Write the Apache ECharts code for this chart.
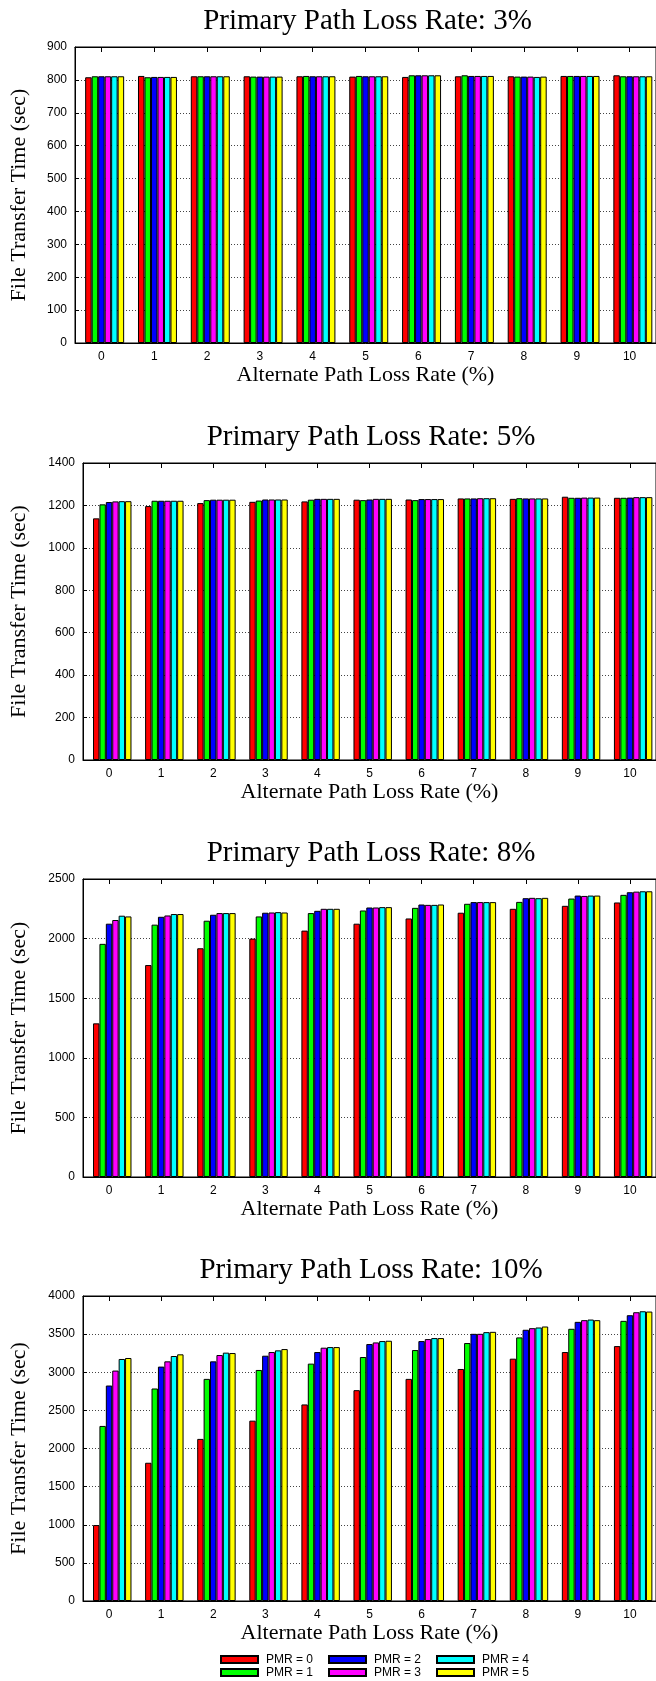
<!DOCTYPE html>
<html>
<head>
<meta charset="utf-8">
<script src="https://cdn.jsdelivr.net/npm/echarts@6/dist/echarts.min.js"></script>
<style>
  html, body { margin: 0; padding: 0; background: #fff; }
  #chart { width: 656px; height: 1681px; }
</style>
</head>
<body>
<div id="chart"></div>
<script>
// categories: alternate path loss rate (%)
const altLoss = ['0', '1', '2', '3', '4', '5', '6', '7', '8', '9', '10'];
const pmrNames = ['PMR = 0', 'PMR = 1', 'PMR = 2', 'PMR = 3', 'PMR = 4', 'PMR = 5'];
const pmrColors = ['#ff0000', '#00ff00', '#0000ff', '#ff00ff', '#00ffff', '#ffff00'];
const panelTitles = [
  'Primary Path Loss Rate: 3%',
  'Primary Path Loss Rate: 5%',
  'Primary Path Loss Rate: 8%',
  'Primary Path Loss Rate: 10%'
];
const yMax = [900, 1400, 2500, 4000];
const yStep = [100, 200, 500, 500];

// file transfer time (sec), one row per PMR, one value per alternate loss rate
const loss3 = [
  [808, 812, 811, 811, 811, 810, 809, 811, 811, 812, 814],
  [811, 808, 811, 810, 812, 812, 814, 814, 810, 812, 811],
  [811, 809, 811, 810, 811, 811, 814, 812, 810, 812, 811],
  [811, 809, 811, 810, 811, 811, 814, 812, 810, 812, 811],
  [811, 809, 811, 810, 811, 811, 814, 812, 809, 812, 811],
  [811, 809, 811, 810, 811, 811, 814, 812, 810, 812, 811]
];
const loss5 = [
  [1139, 1197, 1211, 1217, 1219, 1227, 1228, 1233, 1231, 1241, 1236],
  [1205, 1222, 1225, 1223, 1227, 1225, 1225, 1233, 1234, 1236, 1236],
  [1216, 1222, 1227, 1228, 1231, 1228, 1230, 1233, 1233, 1236, 1237],
  [1219, 1222, 1227, 1228, 1231, 1231, 1230, 1234, 1233, 1237, 1239],
  [1220, 1222, 1227, 1228, 1231, 1231, 1230, 1234, 1233, 1237, 1239],
  [1220, 1222, 1227, 1228, 1231, 1231, 1230, 1234, 1233, 1237, 1239]
];
const loss8 = [
  [1289, 1778, 1919, 2000, 2067, 2125, 2169, 2217, 2250, 2275, 2303],
  [1956, 2117, 2150, 2186, 2214, 2236, 2258, 2292, 2308, 2336, 2367],
  [2125, 2183, 2200, 2217, 2233, 2261, 2286, 2306, 2339, 2361, 2389],
  [2156, 2194, 2214, 2219, 2250, 2261, 2283, 2306, 2342, 2358, 2394],
  [2192, 2206, 2214, 2222, 2250, 2264, 2283, 2306, 2339, 2361, 2397],
  [2186, 2206, 2214, 2219, 2250, 2264, 2286, 2306, 2342, 2361, 2397]
];
const loss10 = [
  [996, 1813, 2126, 2365, 2578, 2765, 2913, 3043, 3178, 3265, 3343],
  [2296, 2787, 2913, 3030, 3113, 3200, 3291, 3383, 3457, 3570, 3674],
  [2826, 3074, 3143, 3217, 3265, 3370, 3409, 3504, 3557, 3661, 3748],
  [3022, 3143, 3226, 3265, 3322, 3391, 3435, 3504, 3578, 3683, 3787],
  [3174, 3213, 3257, 3287, 3330, 3409, 3448, 3526, 3587, 3691, 3800],
  [3187, 3235, 3252, 3304, 3330, 3413, 3448, 3530, 3600, 3683, 3796]
];
const panelData = [loss3, loss5, loss8, loss10];

// panel boxes (px)
const grids = [
  { left: 75, top: 47, width: 585, height: 296 },
  { left: 83, top: 463, width: 576, height: 297 },
  { left: 83, top: 879, width: 576, height: 298 },
  { left: 83, top: 1296, width: 576, height: 305 }
];

const sans = 'Liberation Sans, Arial, sans-serif';
const serif = 'Liberation Serif, Times New Roman, serif';

const option = {
  animation: false,
  backgroundColor: '#fff',
  title: [],
  grid: [],
  xAxis: [],
  yAxis: [],
  series: [],
  legend: []
};

grids.forEach((g, i) => {
  option.title.push({
    text: panelTitles[i],
    left: g.left + g.width / 2,
    top: g.top - 40,
    textAlign: 'center',
    padding: 0,
    textStyle: { fontFamily: serif, fontSize: 29, fontWeight: 'normal', color: '#000' }
  });
  option.grid.push({
    left: g.left, top: g.top, width: g.width, height: g.height,
    show: true, borderColor: '#000', borderWidth: 1, backgroundColor: 'transparent'
  });
  // bottom axis with labels
  option.xAxis.push({
    type: 'category',
    gridIndex: i,
    data: altLoss,
    position: 'bottom',
    axisLine: { lineStyle: { color: '#000', width: 1 } },
    axisTick: { show: false },
    axisLabel: { color: '#000', fontFamily: sans, fontSize: 12, margin: 8 },
    name: 'Alternate Path Loss Rate (%)',
    nameLocation: 'middle',
    nameGap: 21,
    nameTextStyle: { fontFamily: serif, fontSize: 22, color: '#000' }
  });
  // mirrored ticks on the top edge
  option.xAxis.push({
    type: 'category',
    gridIndex: i,
    data: altLoss,
    position: 'top',
    axisLine: { show: true, lineStyle: { color: '#000', width: 1 } },
    axisTick: { show: true, inside: true, alignWithLabel: true, length: 5, lineStyle: { color: '#000' } },
    axisLabel: { show: false }
  });
  option.yAxis.push({
    type: 'value',
    gridIndex: i,
    min: 0,
    max: yMax[i],
    interval: yStep[i],
    axisLine: { show: true, lineStyle: { color: '#000', width: 1 } },
    axisTick: { show: true, inside: true, length: 4, lineStyle: { color: '#000' } },
    axisLabel: { color: '#000', fontFamily: sans, fontSize: 12, margin: 8, formatter: v => String(v) },
    splitLine: { show: true, lineStyle: { color: '#444', type: [1, 2], width: 1 } },
    name: 'File Transfer Time (sec)',
    nameLocation: 'middle',
    nameRotate: 90,
    nameGap: g.left - 30,
    nameTextStyle: { fontFamily: serif, fontSize: 22, color: '#000' }
  });
  // empty leading slot: the gnuplot cluster sits half a bar right of its tick
  option.series.push({
    type: 'bar', name: 'pad', xAxisIndex: i * 2, yAxisIndex: i,
    data: altLoss.map(() => null), barWidth: '12.3%', barGap: '0%', silent: true
  });
  panelData[i].forEach((row, k) => {
    option.series.push({
      type: 'bar',
      name: pmrNames[k],
      xAxisIndex: i * 2,
      yAxisIndex: i,
      data: row,
      barWidth: '12.3%',
      barGap: '0%',
      itemStyle: { color: pmrColors[k], borderColor: '#000', borderWidth: 1 }
    });
  });
});

// legend: three columns of two
[[0, 1], [2, 3], [4, 5]].forEach((pair, c) => {
  option.legend.push({
    data: pair.map(k => pmrNames[k]),
    orient: 'vertical',
    left: 220 + c * 108,
    top: 1653,
    padding: 0,
    itemGap: 0,
    itemWidth: 37,
    itemHeight: 7,
    icon: 'rect',
    selectedMode: false,
    textStyle: { fontFamily: sans, fontSize: 12, color: '#000', lineHeight: 13, padding: [0, 0, 0, 3] }
  });
});

const chart = echarts.init(document.getElementById('chart'), null, { renderer: 'canvas' });
chart.setOption(option);
</script>
</body>
</html>
